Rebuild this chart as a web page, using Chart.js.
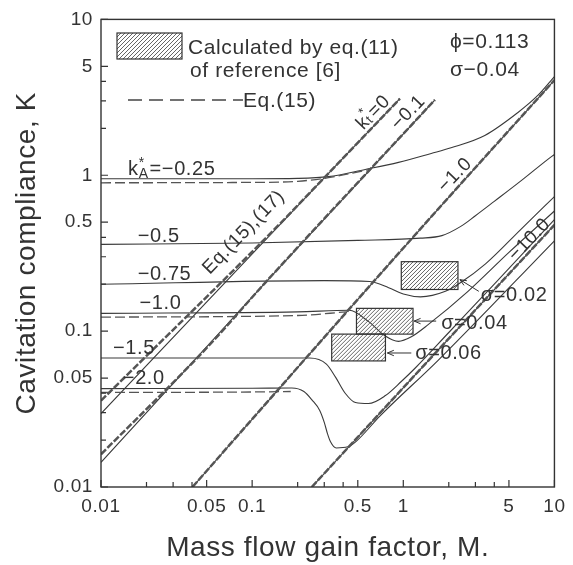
<!DOCTYPE html>
<html>
<head>
<meta charset="utf-8">
<script src="https://cdn.jsdelivr.net/npm/chart.js@4.4.0/dist/chart.umd.min.js"></script>
<style>
  html, body { margin: 0; padding: 0; background: #fff; }
</style>
</head>
<body>
<canvas id="chart" width="573" height="565"></canvas>
<script>
// Axis ticks (log-log, M and K)
const xTickLabels = [0.01, 0.05, 0.1, 0.5, 1, 5, 10];
const yTickLabels = [0.01, 0.05, 0.1, 0.5, 1, 5, 10];
const xMinorTicks = [0.02, 0.03, 0.04, 0.2, 0.3, 0.4, 2, 3, 4];
const yMinorTicks = [0.02, 0.03, 0.04, 0.2, 0.3, 0.4, 2, 3, 4];

// kA* curves, solid lines  [M, K]
const kA_025 = [[0.01,0.95],[0.1,0.95],[0.2,0.955],[0.32,0.98],[0.56,1.09],[0.93,1.21],[1.53,1.38],[2.07,1.5],[3.46,1.8],[5.71,2.52],[7.73,3.24],[10,4.3]];
const kA_050 = [[0.01,0.36],[0.1,0.368],[0.5,0.382],[1.3,0.395],[1.8,0.41],[2.4,0.47],[3.0,0.55],[4.0,0.68],[6.0,0.92],[9.0,1.26],[10,1.36]];
const kA_075 = [[0.01,0.2],[0.3,0.211],[0.6,0.208],[0.8,0.19],[1.0,0.173],[1.3,0.166],[1.9,0.18],[2.4,0.205],[3.5,0.27],[6,0.45],[10,0.73]];
const kA_100 = [[0.01,0.13],[0.2,0.133],[0.44,0.136],[0.59,0.115],[0.76,0.093],[0.93,0.086],[1.13,0.092],[1.46,0.11],[2.68,0.18],[5,0.32],[10,0.59]];
const kA_150 = [[0.01,0.0673],[0.24,0.0673],[0.31,0.0615],[0.357,0.0505],[0.414,0.0398],[0.483,0.0348],[0.589,0.0343],[0.762,0.0386],[0.97,0.0475],[1.2,0.058],[2,0.098],[4,0.2],[10,0.52]];
const kA_200 = [[0.01,0.0428],[0.1,0.043],[0.183,0.0432],[0.22,0.041],[0.25,0.036],[0.28,0.031],[0.3,0.026],[0.315,0.022],[0.33,0.0195],[0.36,0.0178],[0.43,0.0181],[0.49,0.0197],[0.7,0.0285],[1.7,0.065],[10,0.38]];

// Eq.(15) dashed parts of the plateaus
const kA_025_eq15 = [[0.01,0.895],[0.1,0.9],[0.2,0.915],[0.32,0.965],[0.6,1.09]];
const kA_100_eq15 = [[0.01,0.123],[0.2,0.126],[0.42,0.133]];
const kA_200_eq15 = [[0.01,0.0404],[0.1,0.0407],[0.18,0.041]];

// kt* lines
const kt_0 = [[0.01,0.0296],[0.32,1.03],[0.95,3.1]];
const kt_0_eq15 = [[0.01,0.0358],[0.15,0.48],[0.32,1.03],[0.95,3.1]];
const kt_01 = [[0.01,0.0144],[0.124,0.208],[1.62,3.05]];
const kt_01_eq15 = [[0.01,0.0162],[0.05,0.078],[0.124,0.208],[1.62,3.05]];
const kt_10 = [[0.0403,0.01],[0.373,0.116],[1.7,0.607],[10,4.08]];
const kt_100 = [[0.248,0.01],[1.4,0.0617],[10,0.48]];

// eq.(11) of reference [6]: [Mmin, Mmax, Kmin, Kmax]
const sigmaBoxes = [[0.97,2.3,0.185,0.279],[0.49,1.16,0.0957,0.14],[0.336,0.762,0.0644,0.0957]];
const sigmaNames = ['σ=0.02', 'σ=0.04', 'σ=0.06'];

const INK = '#333';
const FONT = '"Liberation Sans", Arial, sans-serif';
const SPACING = '0.6px';
const pts = a => a.map(([x, y]) => ({ x, y }));

function curve(data, smooth) {
  return { data: pts(data), borderColor: '#3a3a3a', borderWidth: 1.1, tension: smooth ? 0.4 : 0,
           cubicInterpolationMode: smooth ? 'monotone' : 'default' };
}
function eq15(data, heavy) {
  return { data: pts(data), borderColor: '#555', borderWidth: heavy ? 2.5 : 1.3,
           borderDash: heavy ? [7, 2] : [10, 4], tension: heavy ? 0 : 0.4, cubicInterpolationMode: 'monotone' };
}

const datasets = [
  eq15(kt_0_eq15, true), eq15(kt_01_eq15, true), eq15(kt_10, true), eq15(kt_100, true),
  eq15(kA_025_eq15), eq15(kA_100_eq15), eq15(kA_200_eq15),
  curve(kt_0), curve(kt_01), curve(kt_10), curve(kt_100),
  curve(kA_025, true), curve(kA_050, true), curve(kA_075, true),
  curve(kA_100, true), curve(kA_150, true), curve(kA_200, true),
];

// text with k, star above and subscript letter
function richWidth(ctx, sub, tail, fs) {
  ctx.font = fs + 'px ' + FONT;
  const wk = ctx.measureText('k').width, wt = ctx.measureText(tail).width;
  ctx.font = Math.round(fs * 0.68) + 'px ' + FONT;
  const ws = Math.max(ctx.measureText(sub).width, ctx.measureText('*').width);
  return wk + ws + 1 + wt;
}
function drawRich(ctx, x, y, sub, tail, fs) {
  ctx.font = fs + 'px ' + FONT;
  ctx.fillText('k', x, y);
  const wk = ctx.measureText('k').width;
  ctx.font = Math.round(fs * 0.68) + 'px ' + FONT;
  const ws = Math.max(ctx.measureText(sub).width, ctx.measureText('*').width);
  ctx.fillText('*', x + wk, y - fs * 0.42);
  ctx.fillText(sub, x + wk, y + fs * 0.12);
  ctx.font = fs + 'px ' + FONT;
  ctx.fillText(tail, x + wk + ws + 1, y);
}

function hatch(ctx, x0, y0, x1, y1) {
  ctx.save();
  ctx.beginPath(); ctx.rect(x0, y0, x1 - x0, y1 - y0); ctx.clip();
  ctx.strokeStyle = '#555'; ctx.lineWidth = 0.9;
  ctx.beginPath();
  for (let s = x0 - (y1 - y0); s < x1; s += 4) {
    ctx.moveTo(s, y1); ctx.lineTo(s + (y1 - y0), y0);
  }
  ctx.stroke();
  ctx.restore();
  ctx.strokeStyle = '#333'; ctx.lineWidth = 1.2;
  ctx.strokeRect(x0, y0, x1 - x0, y1 - y0);
}

function arrow(ctx, x0, y0, x1, y1) {
  ctx.strokeStyle = '#333'; ctx.lineWidth = 1;
  ctx.beginPath(); ctx.moveTo(x0, y0); ctx.lineTo(x1, y1); ctx.stroke();
  const a = Math.atan2(y1 - y0, x1 - x0);
  ctx.beginPath();
  ctx.moveTo(x1 - 7 * Math.cos(a - 0.4), y1 - 7 * Math.sin(a - 0.4));
  ctx.lineTo(x1, y1);
  ctx.lineTo(x1 - 7 * Math.cos(a + 0.4), y1 - 7 * Math.sin(a + 0.4));
  ctx.stroke();
}

const spacing = {
  id: 'spacing',
  beforeDraw(chart) { chart.ctx.letterSpacing = SPACING; },
};

const overlay = {
  id: 'overlay',
  afterDraw(chart) {
    const { ctx, chartArea: ca, scales: { x, y } } = chart;
    const X = v => x.getPixelForValue(v), Y = v => y.getPixelForValue(v);
    ctx.save();
    ctx.letterSpacing = SPACING;
    // frame
    ctx.strokeStyle = INK; ctx.lineWidth = 1.4;
    ctx.strokeRect(ca.left, ca.top, ca.right - ca.left, ca.bottom - ca.top);
    // inward ticks
    ctx.lineWidth = 1.2;
    ctx.beginPath();
    xTickLabels.concat(xMinorTicks).forEach(v => {
      const len = xTickLabels.includes(v) ? 7 : 5;
      ctx.moveTo(X(v), ca.bottom); ctx.lineTo(X(v), ca.bottom - len);
    });
    yTickLabels.concat(yMinorTicks).forEach(v => {
      const len = yTickLabels.includes(v) ? 7 : 5;
      ctx.moveTo(ca.left, Y(v)); ctx.lineTo(ca.left + len, Y(v));
    });
    ctx.stroke();

    // hatched boxes
    sigmaBoxes.forEach(b => hatch(ctx, X(b[0]), Y(b[3]), X(b[1]), Y(b[2])));

    ctx.fillStyle = INK;
    ctx.textBaseline = 'alphabetic';
    ctx.textAlign = 'left';
    // sigma labels and arrows
    ctx.font = '20px ' + FONT;
    ctx.fillText(sigmaNames[0], X(3.26), Y(0.155));
    ctx.fillText(sigmaNames[1], X(1.78), Y(0.103));
    ctx.fillText(sigmaNames[2], X(1.2), Y(0.066));
    arrow(ctx, X(3.16), Y(0.18), X(2.37), Y(0.214));
    arrow(ctx, X(1.65), Y(0.116), X(1.18), Y(0.116));
    arrow(ctx, X(1.13), Y(0.0724), X(0.785), Y(0.0724));

    // kA* labels
    drawRich(ctx, X(0.0151), Y(1.0), 'A', '=−0.25', 20);
    ctx.font = '20px ' + FONT;
    ctx.fillText('−0.5', X(0.0175), Y(0.374));
    ctx.fillText('−0.75', X(0.0175), Y(0.214));
    ctx.fillText('−1.0', X(0.018), Y(0.138));
    ctx.fillText('−1.5', X(0.012), Y(0.0714));
    ctx.fillText('−2.0', X(0.01395), Y(0.0459));

    // rotated labels along kt* lines
    const ang = -46 * Math.PI / 180;
    const rot = (mx, ky, fn) => {
      ctx.save(); ctx.translate(X(mx), Y(ky)); ctx.rotate(ang); fn(); ctx.restore();
    };
    ctx.textBaseline = 'middle';
    rot(0.635, 2.52, () => {
      const w = richWidth(ctx, 't', '=0', 19);
      ctx.textAlign = 'left'; drawRich(ctx, -w / 2, 0, 't', '=0', 19);
    });
    ctx.textAlign = 'center';
    ctx.font = '19px ' + FONT;
    rot(1.08, 2.52, () => ctx.fillText('−0.1', 0, 0));
    rot(2.2, 1.0, () => ctx.fillText('−1.0', 0, 0));
    rot(6.85, 0.386, () => ctx.fillText('−10.0', 0, 0));
    rot(0.088, 0.43, () => ctx.fillText('Eq.(15),(17)', 0, 0));

    // legend and parameters
    ctx.textAlign = 'left';
    ctx.textBaseline = 'middle';
    hatch(ctx, 117, 33, 182, 59);
    ctx.fillStyle = INK;
    ctx.font = '21px ' + FONT;
    ctx.fillText('Calculated by eq.(11)', 188, 48);
    ctx.fillText('of reference [6]', 190, 71);
    ctx.fillText('Eq.(15)', 243, 101);
    ctx.fillText('ϕ=0.113', 450, 42);
    ctx.fillText('σ−0.04', 450, 70);
    ctx.strokeStyle = '#444'; ctx.lineWidth = 1.3; ctx.setLineDash([14, 7]);
    ctx.beginPath(); ctx.moveTo(128, 100); ctx.lineTo(243, 100); ctx.stroke();
    ctx.setLineDash([]);
    ctx.restore();
  }
};

new Chart(document.getElementById('chart'), {
  type: 'scatter',
  data: { datasets },
  options: {
    responsive: false,
    animation: false,
    devicePixelRatio: 1,
    showLine: true,
    elements: { point: { radius: 0 } },
    layout: { padding: { top: 16, right: 16, left: 0, bottom: 0 } },
    plugins: { legend: { display: false }, tooltip: { enabled: false } },
    scales: {
      x: {
        type: 'logarithmic', min: 0.01, max: 10, position: 'bottom',
        grid: { display: false, drawTicks: false },
        border: { display: false },
        afterBuildTicks: s => { s.ticks = xTickLabels.map(v => ({ value: v })); },
        afterFit: s => { s.height = 78; },
        ticks: { autoSkip: false, maxRotation: 0, padding: 8, color: INK,
                 font: { family: FONT, size: 19 }, callback: v => String(v) },
        title: { display: true, text: 'Mass flow gain factor, M.', color: INK,
                 font: { family: FONT, size: 28 }, padding: { top: 0, bottom: 0 } },
      },
      y: {
        type: 'logarithmic', min: 0.01, max: 10, position: 'left',
        grid: { display: false, drawTicks: false },
        border: { display: false },
        afterBuildTicks: s => { s.ticks = yTickLabels.map(v => ({ value: v })); },
        afterFit: s => { s.width = 101; },
        ticks: { autoSkip: false, padding: 8, color: INK,
                 font: { family: FONT, size: 19 }, callback: v => String(v) },
        title: { display: true, text: 'Cavitation compliance, K', color: INK,
                 font: { family: FONT, size: 28 }, padding: { top: 10, bottom: 0 } },
      },
    },
  },
  plugins: [spacing, overlay],
});
</script>
</body>
</html>
